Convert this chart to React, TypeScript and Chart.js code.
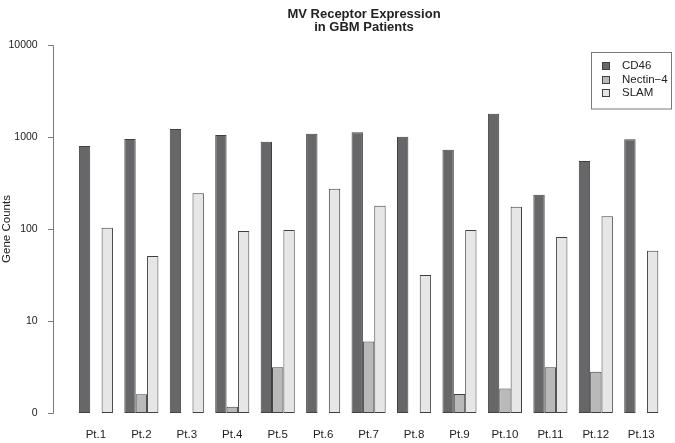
import React, { useEffect, useRef } from "react";
import { Chart, registerables } from "chart.js";

Chart.register(...registerables);

const categories = ["Pt.1", "Pt.2", "Pt.3", "Pt.4", "Pt.5", "Pt.6", "Pt.7", "Pt.8", "Pt.9", "Pt.10", "Pt.11", "Pt.12", "Pt.13"];
const cd46 = [798, 951, 1222, 1053, 889, 1086, 1125, 1007, 728, 1791, 236, 548, 945];
const nectin4 = [0, 1.6, 0, 1.17, 3.14, 0, 6.0, 0, 1.61, 1.85, 3.14, 2.81, 0];
const slam = [103, 51, 244, 95, 97.5, 274, 179, 31.6, 97.5, 175, 82, 138, 58];
const yTickValues = [1, 10, 100, 1000, 10000];
const yTickLabels = ["0", "10", "100", "1000", "10000"];
const seriesNames = ["CD46", "Nectin\u22124", "SLAM"];
const seriesColors = ["#67676a", "#b9b9b9", "#e6e6e6"];
const titleLines = ["MV Receptor Expression", "in GBM Patients"];

const FONT = "'Liberation Sans', Arial, Helvetica, sans-serif";

const decorPlugin = {
  id: "decor",
  afterDraw(chart: any) {
    const ctx = chart.ctx as CanvasRenderingContext2D;
    const y = chart.scales.y;
    ctx.save();
    // y axis line and ticks
    const axX = 53.5;
    const top = Math.round(y.getPixelForValue(10000)) + 0.5;
    const bot = Math.round(y.getPixelForValue(1)) + 0.5;
    ctx.strokeStyle = "#7a7a7a";
    ctx.lineWidth = 1;
    ctx.beginPath();
    ctx.moveTo(axX, top);
    ctx.lineTo(axX, bot);
    yTickValues.forEach((v) => {
      const py = Math.round(y.getPixelForValue(v)) + 0.5;
      ctx.moveTo(48, py);
      ctx.lineTo(axX, py);
    });
    ctx.stroke();

    // title
    ctx.fillStyle = "#222";
    ctx.font = `bold 13px ${FONT}`;
    ctx.textAlign = "center";
    ctx.textBaseline = "middle";
    ctx.fillText(titleLines[0], 364, 14);
    ctx.fillText(titleLines[1], 364, 27);

    // legend
    const bx = 591.5, by = 52.5, bw = 80, bh = 56.5;
    ctx.strokeStyle = "#7a7a7a";
    ctx.strokeRect(bx, by, bw, bh);
    ctx.font = `11.5px ${FONT}`;
    ctx.textAlign = "left";
    const rows = [66, 79.5, 93];
    chart.data.datasets.forEach((ds: any, i: number) => {
      const ry = rows[i];
      ctx.fillStyle = ds.backgroundColor;
      ctx.fillRect(603, Math.round(ry - 3), 6, 6);
      ctx.strokeStyle = "#404040";
      ctx.strokeRect(602.5, Math.round(ry - 3) - 0.5, 7, 7);
      ctx.fillStyle = "#222";
      ctx.fillText(ds.label, 622, ry);
    });
    ctx.restore();
  },
};

export default function App() {
  const ref = useRef<HTMLCanvasElement | null>(null);
  useEffect(() => {
    if (!ref.current) return;
    const mk = (label: string, vals: number[], color: string) => ({
      label,
      data: vals.map((v) => Math.max(v, 1)),
      backgroundColor: color,
      borderColor: "#404040",
      borderWidth: 1,
      borderSkipped: false,
      categoryPercentage: 0.75,
      barPercentage: 1,
    });
    const chart = new Chart(ref.current, {
      type: "bar",
      data: {
        labels: categories,
        datasets: [
          mk(seriesNames[0], cd46, seriesColors[0]),
          mk(seriesNames[1], nectin4, seriesColors[1]),
          mk(seriesNames[2], slam, seriesColors[2]),
        ],
      },
      options: {
        responsive: false,
        animation: false,
        devicePixelRatio: 1,
        layout: { padding: { left: 0, right: 11, top: 45, bottom: 0 } },
        plugins: {
          legend: { display: false },
          title: { display: false },
          tooltip: { enabled: false },
        },
        scales: {
          x: {
            grid: { display: false, drawTicks: false },
            border: { display: false },
            ticks: { padding: 15, color: "#222", font: { family: FONT, size: 11.5 }, maxRotation: 0, autoSkip: false },
            afterFit: (s: any) => {
              s.height = 30;
            },
          },
          y: {
            type: "logarithmic",
            min: 1,
            max: 10000,
            afterBuildTicks: (s: any) => {
              s.ticks = yTickValues.map((v) => ({ value: v }));
            },
            grid: { display: false, drawTicks: false },
            border: { display: false },
            ticks: {
              padding: 35.5,
              color: "#222",
              font: { family: FONT, size: 10.5 },
              callback: (v: any) => {
                const i = yTickValues.indexOf(Number(v));
                return i >= 0 ? yTickLabels[i] : "";
              },
            },
            title: { display: true, text: "Gene Counts", color: "#222", font: { family: FONT, size: 11.5 }, padding: 0 },
            afterFit: (s: any) => {
              s.width = 73.2;
              s.paddingTop = 6;
              s.paddingBottom = 6;
            },
          },
        },
      } as any,
      plugins: [decorPlugin],
    });
    return () => chart.destroy();
  }, []);
  return (
    <div style={{ position: "fixed", left: 0, top: 0, width: 675, height: 443, background: "#fff" }}>
      <canvas ref={ref} width={675} height={443} />
    </div>
  );
}
